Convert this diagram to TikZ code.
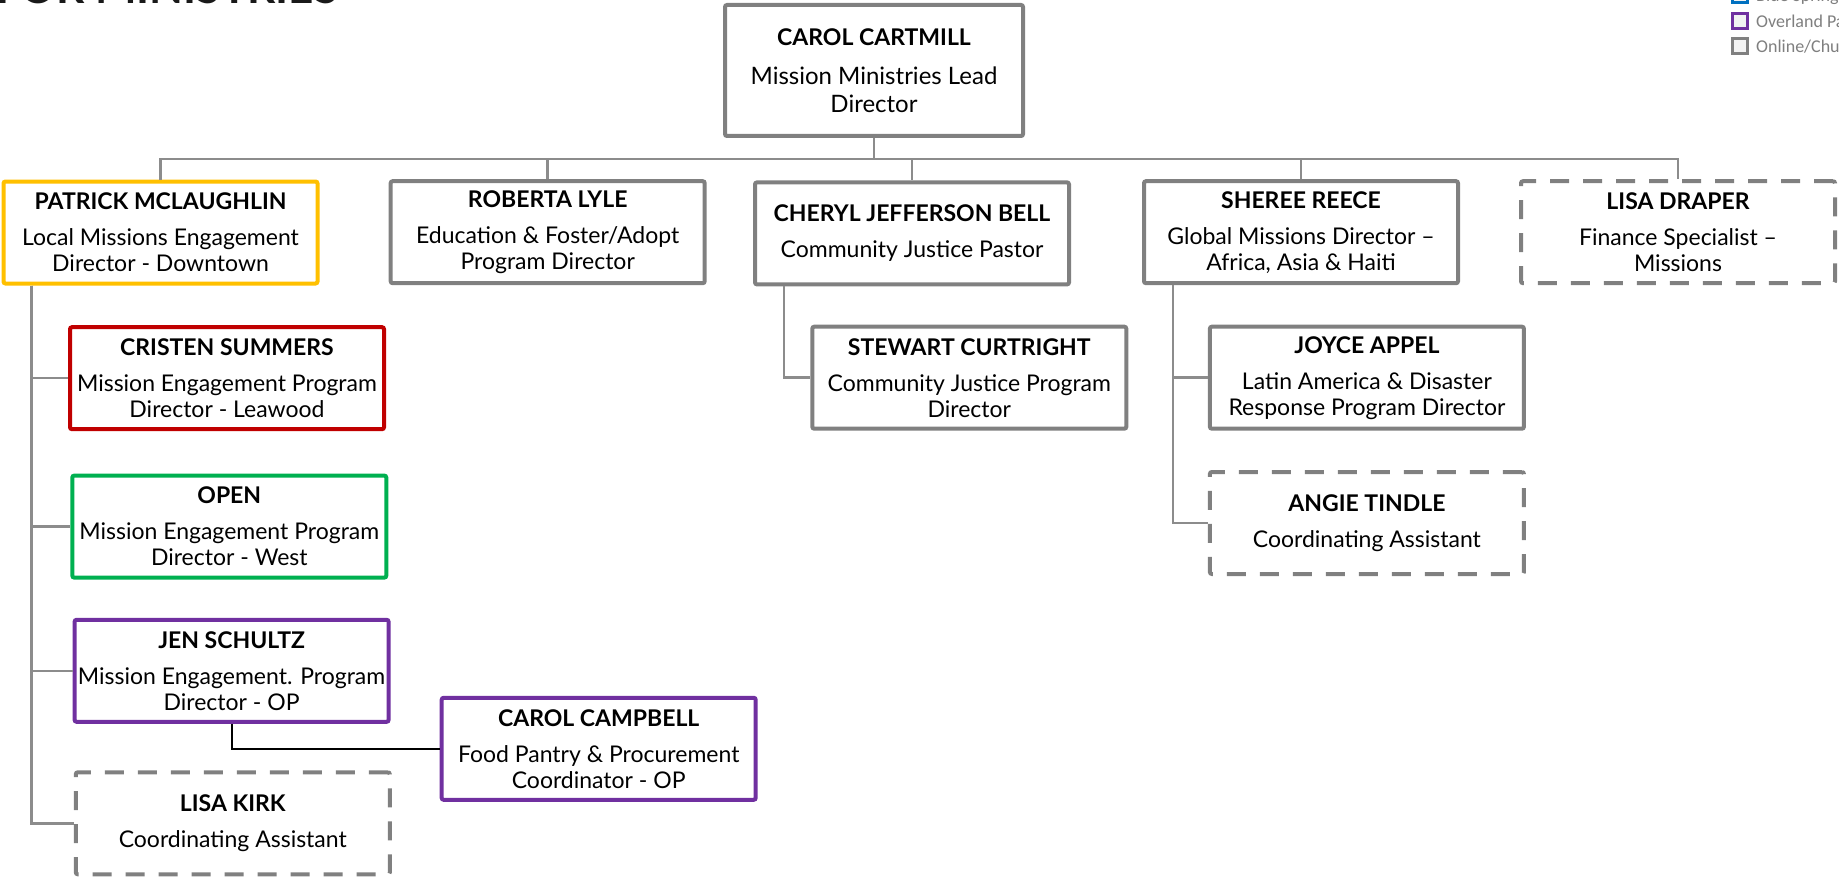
\documentclass[tikz,border=0pt]{standalone}
\usepackage{fontspec}
\setmainfont{Lato}
\newfontfamily\legendfont{Carlito}
\definecolor{boxgrey}{HTML}{808080}
\definecolor{linegrey}{HTML}{8C8C8C}
\definecolor{cyellow}{HTML}{FFC000}
\definecolor{cred}{HTML}{C00000}
\definecolor{cgreen}{HTML}{00B050}
\definecolor{cpurple}{HTML}{7030A0}
\definecolor{cblue}{HTML}{0070C0}
\definecolor{legtext}{HTML}{7F7F7F}
\definecolor{legfill}{HTML}{F2F2F2}
\newcommand{\nm}[1]{{\fontsize{23}{26}\selectfont\bfseries #1}}
\begin{document}
\begin{tikzpicture}[x=1pt,y=-1pt,
  person/.style={draw=boxgrey, line width=4pt, rounded corners=2pt, fill=white,
    minimum width=314pt, minimum height=102pt, align=center, inner sep=0pt,
    font=\fontsize{23}{26}\selectfont},
  dashbox/.style={person, dash pattern=on 19pt off 14pt},
  conn/.style={draw=linegrey, line width=2.5pt},
  legbox/.style={draw=#1, fill=legfill, line width=3pt, minimum size=15pt, inner sep=0pt},
  legtxt/.style={anchor=base west, text=legtext, font=\legendfont\fontsize{18}{20}\selectfont, inner sep=0pt}
]
\useasboundingbox (0,0) rectangle (1839,880);
\clip (0,0) rectangle (1839,880);
\fill[white] (0,0) rectangle (1839,880);

% partial title
\node[anchor=base west, inner sep=0pt, font=\bfseries\fontsize{44}{44}\selectfont, text=black!90] (title) at (-4,4) {FOR MINISTRIES};

% legend (partly cut)
\node[legbox=cblue] (lb1) at (1739.5,-5) {};
\node[legbox=cpurple] (lb2) at (1739.5,21) {};
\node[legbox=boxgrey] (lb3) at (1739.5,46) {};
\node[legtxt] (lt1) at (1756,2) {Blue Springs};
\node[legtxt] (lt2) at (1756,28) {Overland Park};
\node[legtxt] (lt3) at (1756,53) {Online/Church};

% boxes
\node[person, minimum width=298pt, minimum height=131pt, font=\fontsize{24}{28}\selectfont] (carol) at (874,70.5)
  {\nm{CAROL CARTMILL}\\[11pt]Mission Ministries Lead\\Director};
\node[person, draw=cyellow] (patrick) at (160.5,232.5)
  {\nm{PATRICK MCLAUGHLIN}\\[10pt]Local Missions Engagement\\Director - Downtown};
\node[person] (roberta) at (547.7,232.2)
  {\nm{ROBERTA LYLE}\\[10pt]Education \& Foster/Adopt\\Program Director};
\node[person] (cheryl) at (912,233.4)
  {\nm{CHERYL JEFFERSON BELL}\\[10pt]Community Justice Pastor};
\node[person] (sheree) at (1301,232.2)
  {\nm{SHEREE REECE}\\[10pt]Global Missions Director –\\Africa, Asia \& Haiti};
\node[dashbox] (draper) at (1678,232.2)
  {\nm{LISA DRAPER}\\[10pt]Finance Specialist –\\Missions};
\node[person, draw=cred] (cristen) at (227,378.2)
  {\nm{CRISTEN SUMMERS}\\[10pt]Mission Engagement Program\\Director - Leawood};
\node[person, draw=cgreen] (open) at (229.3,526.6)
  {\nm{OPEN}\\[10pt]Mission Engagement Program\\Director - West};
\node[person, draw=cpurple] (jen) at (231.6,670.8)
  {\nm{JEN SCHULTZ}\\[10pt]Mission Engagement. Program\\Director - OP};
\node[dashbox] (kirk) at (232.8,823.3)
  {\nm{LISA KIRK}\\[10pt]Coordinating Assistant};
\node[person, draw=cpurple] (campbell) at (598.7,748.8)
  {\nm{CAROL CAMPBELL}\\[10pt]Food Pantry \& Procurement\\Coordinator - OP};
\node[person] (stewart) at (969.3,377.7)
  {\nm{STEWART CURTRIGHT}\\[10pt]Community Justice Program\\Director};
\node[person] (joyce) at (1366.9,377.7)
  {\nm{JOYCE APPEL}\\[10pt]Latin America \& Disaster\\Response Program Director};
\node[dashbox] (angie) at (1366.9,523)
  {\nm{ANGIE TINDLE}\\[10pt]Coordinating Assistant};

% connectors
\coordinate (bus) at (874,159);
\draw[conn] (carol.south) -- (bus);
\draw[conn] (bus) -| (patrick.north);
\draw[conn] (bus) -| (roberta.north);
\draw[conn] (bus) -| (cheryl.north);
\draw[conn] (bus) -| (sheree.north);
\draw[conn] (bus) -| (draper.north);
\draw[conn] ([xshift=30pt]patrick.south west) |- (cristen.west);
\draw[conn] ([xshift=30pt]patrick.south west) |- (open.west);
\draw[conn] ([xshift=30pt]patrick.south west) |- (jen.west);
\draw[conn] ([xshift=30pt]patrick.south west) |- (kirk.west);
\draw[conn] ([xshift=31pt]cheryl.south west) |- (stewart.west);
\draw[conn] ([xshift=31pt]sheree.south west) |- (joyce.west);
\draw[conn] ([xshift=31pt]sheree.south west) |- (angie.west);
\draw[black, line width=2pt] (jen.south) |- (campbell.west);
\end{tikzpicture}
\end{document}
